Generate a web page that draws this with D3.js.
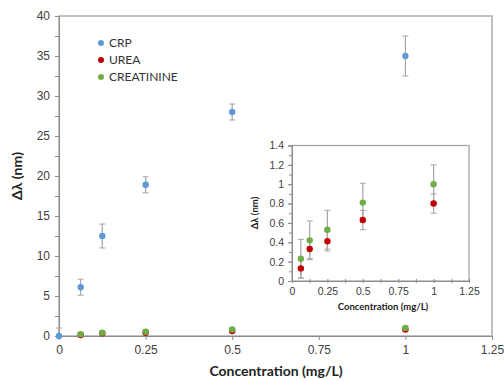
<!DOCTYPE html>
<html>
<head>
<meta charset="utf-8">
<script src="https://cdn.jsdelivr.net/npm/d3@7"></script>
<style>
  body { margin: 0; background: #fff; }
  svg { font-family: Lato, 'Open Sans', sans-serif; }
  .axis path, .axis line { stroke: #8c8c8c; }
  .axis text { fill: #404040; }
</style>
</head>
<body>
<svg id="chart" width="504" height="381"></svg>
<script>
// concentrations (mg/L)
const conc = [0.0625, 0.125, 0.25, 0.5, 1];
const crpConc = [0, 0.0625, 0.125, 0.25, 0.5, 1];
const crp = [0, 6.1, 12.5, 18.9, 28, 35];
const crpErr = [1, 1, 1.5, 1, 1, 2.5];
const urea = [0.13, 0.33, 0.41, 0.63, 0.8];
const ureaErr = [0.1, 0.1, 0.1, 0.1, 0.1];
const creat = [0.23, 0.42, 0.53, 0.81, 1.0];
const creatErr = [0.2, 0.2, 0.2, 0.2, 0.2];
const seriesNames = ['CRP', 'UREA', 'CREATININE'];
const colors = ['#5b9bd5', '#c00000', '#70ad47'];
const mainYTicks = [0, 5, 10, 15, 20, 25, 30, 35, 40];
const insetYTicks = [0, 0.2, 0.4, 0.6, 0.8, 1, 1.2, 1.4];
const xTicks = [0, 0.25, 0.5, 0.75, 1, 1.25];

const svg = d3.select('#chart');

const series = [
    { name: 'CRP', x: crpConc, y: crp, e: crpErr, color: colors[0] },
    { name: 'UREA', x: conc, y: urea, e: ureaErr, color: colors[1] },
    { name: 'CREATININE', x: conc, y: creat, e: creatErr, color: colors[2] }
];

function drawPanel(g, xScale, yScale, list, r, cap) {
    list.forEach(s => {
        const pts = s.x.map((x, i) => ({ x: x, y: s.y[i], e: s.e[i] }));
        const [y0, y1] = yScale.domain();
        const eg = g.append('g');
        pts.forEach(p => {
            const top = yScale(Math.min(p.y + p.e, y1));
            const bot = yScale(Math.max(p.y - p.e, y0));
            const cx = xScale(p.x);
            eg.append('line').attr('x1', cx).attr('x2', cx).attr('y1', top).attr('y2', bot)
                .attr('stroke', '#a6a6a6').attr('stroke-width', 1.2);
            if (p.y + p.e <= y1)
                eg.append('line').attr('x1', cx - cap).attr('x2', cx + cap).attr('y1', top).attr('y2', top)
                    .attr('stroke', '#a6a6a6').attr('stroke-width', 1);
            if (p.y - p.e >= y0)
                eg.append('line').attr('x1', cx - cap).attr('x2', cx + cap).attr('y1', bot).attr('y2', bot)
                    .attr('stroke', '#a6a6a6').attr('stroke-width', 1);
        });
    });
    list.forEach(s => {
        g.append('g').selectAll('circle')
            .data(s.x.map((x, i) => ({ x: x, y: s.y[i] })))
            .enter()
            .append('circle')
            .attr('cx', d => xScale(d.x))
            .attr('cy', d => yScale(d.y))
            .attr('r', r)
            .attr('fill', s.color);
    });
}

// Main chart
const mx = d3.scaleLinear().domain([0, 1.25]).range([59, 492]);
const my = d3.scaleLinear().domain([0, 40]).range([336, 16]);

svg.append('rect')
    .attr('x', mx(0)).attr('y', my(40))
    .attr('width', mx(1.25) - mx(0)).attr('height', my(0) - my(40))
    .attr('fill', 'none').attr('stroke', '#a0a0a0').attr('stroke-width', 1.3);

svg.append('g').attr('class', 'axis')
    .attr('transform', `translate(${mx(0)},0)`)
    .call(d3.axisLeft(my).tickValues(d3.range(0, 40.1, 2.5)).tickSize(4).tickFormat(''))
    .call(g => g.select('.domain').remove());
svg.append('g').attr('class', 'axis')
    .attr('transform', `translate(${mx(0)},0)`)
    .call(d3.axisLeft(my).tickValues(mainYTicks).tickSize(4).tickPadding(5))
    .call(g => g.selectAll('text').style('font-size', '12px'));
svg.append('g').attr('class', 'axis')
    .attr('transform', `translate(0,${my(0)})`)
    .call(d3.axisBottom(mx).tickValues(xTicks).tickFormat(d3.format('')).tickSize(4).tickPadding(5))
    .call(g => g.selectAll('text').style('font-size', '12px'));

drawPanel(svg.append('g'), mx, my, series, 3.2, 3);

// main titles
svg.append('text')
    .attr('x', 276).attr('y', 376)
    .attr('text-anchor', 'middle')
    .style('font-weight', 'bold').style('font-size', '14px').attr('fill', '#222')
    .text('Concentration (mg/L)');
svg.append('text')
    .attr('transform', 'translate(22,176) rotate(-90)')
    .attr('text-anchor', 'middle')
    .style('font-weight', 'bold').style('font-size', '14px').attr('fill', '#222')
    .text('Δλ (nm)');

// legend
const legend = svg.append('g')
    .selectAll('g')
    .data(seriesNames)
    .enter()
    .append('g')
    .attr('transform', (d, i) => `translate(101, ${43 + i * 17})`);
legend.append('circle').attr('r', 3).attr('fill', (d, i) => colors[i]);
legend.append('text')
    .attr('x', 8).attr('dy', '0.35em')
    .style('font-size', '12px').attr('fill', '#333')
    .text(d => d);

// Inset
const ix = d3.scaleLinear().domain([0, 1.25]).range([292, 469]);
const iy = d3.scaleLinear().domain([0, 1.4]).range([281, 145.5]);

svg.append('rect')
    .attr('x', ix(0)).attr('y', iy(1.4))
    .attr('width', ix(1.25) - ix(0)).attr('height', iy(0) - iy(1.4))
    .attr('fill', '#fff').attr('stroke', '#a0a0a0').attr('stroke-width', 1.2);

svg.append('g').attr('class', 'axis')
    .attr('transform', `translate(${ix(0)},0)`)
    .call(d3.axisLeft(iy).tickValues(d3.range(0, 1.41, 0.1)).tickSize(3).tickFormat(''))
    .call(g => g.select('.domain').remove());
svg.append('g').attr('class', 'axis')
    .attr('transform', `translate(${ix(0)},0)`)
    .call(d3.axisLeft(iy).tickValues(insetYTicks).tickSize(4).tickPadding(4).tickFormat(d3.format('')))
    .call(g => g.selectAll('text').style('font-size', '10.5px'));
svg.append('g').attr('class', 'axis')
    .attr('transform', `translate(0,${iy(0)})`)
    .call(d3.axisBottom(ix).tickValues(d3.range(0, 1.26, 0.125)).tickSizeInner(3).tickSizeOuter(0).tickFormat(''))
    .call(g => g.selectAll('.tick line').attr('y1', -2).attr('y2', 2));
svg.append('g').attr('class', 'axis')
    .attr('transform', `translate(0,${iy(0)})`)
    .call(d3.axisBottom(ix).tickValues(xTicks).tickSize(0).tickPadding(7).tickFormat(d3.format('')))
    .call(g => g.select('.domain').remove())
    .call(g => g.selectAll('text').style('font-size', '10.5px'));

drawPanel(svg.append('g'), ix, iy, series.slice(1), 3.2, 3);

svg.append('text')
    .attr('x', 383).attr('y', 310)
    .attr('text-anchor', 'middle')
    .style('font-weight', 'bold').style('font-size', '9.5px').attr('fill', '#222')
    .text('Concentration (mg/L)');
svg.append('text')
    .attr('transform', 'translate(258,213) rotate(-90)')
    .attr('text-anchor', 'middle')
    .style('font-weight', 'bold').style('font-size', '9.5px').attr('fill', '#222')
    .text('Δλ (nm)');
</script>
</body>
</html>
